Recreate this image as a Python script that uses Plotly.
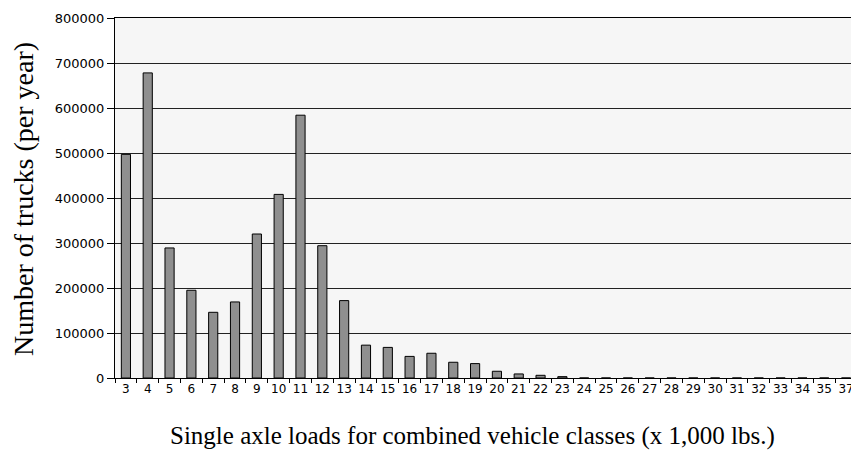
import plotly.graph_objects as go

categories = [str(i) for i in range(3, 36)] + ["37"]
trucks = [497000, 678000, 289000, 195000, 146000, 169000, 320000, 408000,
          584000, 294000, 172000, 73000, 68000, 48000, 55000, 35000, 32000,
          15000, 9000, 6000, 3000, 0, 0, 0, 0, 0, 0, 0, 0, 0, 0, 0, 0, 0]
y_ticks = [0, 100000, 200000, 300000, 400000, 500000, 600000, 700000, 800000]

# page body has an 8px default margin; size the figure so it fills 859x452
OFF = 8
W, H = 859 - OFF, 452 - OFF
L, R, T, B = 115 - OFF, 2, 18 - OFF, 74
pw = W - L - R
ph = H - T - B


def px_x(x_abs):
    return (x_abs - OFF - L) / pw


def px_y(y_abs):
    return 1 - (y_abs - OFF - T) / ph


fig = go.Figure()
fig.add_trace(go.Bar(
    x=categories, y=trucks,
    marker=dict(color="#8f8f8f", line=dict(color="#000000", width=1)),
))

fig.update_layout(
    width=W, height=H,
    margin=dict(l=L, r=R, t=T, b=B, autoexpand=False),
    paper_bgcolor="white",
    plot_bgcolor="#f6f6f6",
    bargap=0.58,
    showlegend=False,
    font=dict(family="DejaVu Sans", color="#000000"),
)
fig.update_xaxes(
    type="category",
    tickson="boundaries",
    ticks="outside", ticklen=4, tickcolor="#000000",
    showline=True, linecolor="#000000", linewidth=1, mirror=True,
    showgrid=False, automargin=False, tickangle=0,
    tickfont=dict(family="DejaVu Sans", size=12, color="#000000"),
)
fig.update_yaxes(
    range=[0, 800000],
    tickvals=y_ticks, ticktext=[str(v) for v in y_ticks],
    ticks="outside", ticklen=7, tickcolor="#000000",
    showline=True, linecolor="#000000", linewidth=1, mirror=True,
    showgrid=True, gridcolor="#222222", gridwidth=1,
    zeroline=False, automargin=False,
    tickfont=dict(family="DejaVu Sans", size=13, color="#000000"),
)

fig.add_annotation(
    text="Single axle loads for combined vehicle classes (x 1,000 lbs.)",
    xref="paper", yref="paper",
    x=px_x(472), y=px_y(436),
    xanchor="center", yanchor="middle", showarrow=False,
    font=dict(family="Liberation Serif", size=25, color="#000000"),
)
fig.add_annotation(
    text="Number of trucks (per year)",
    xref="paper", yref="paper",
    x=px_x(23), y=px_y(199),
    xanchor="center", yanchor="middle", showarrow=False, textangle=-90,
    font=dict(family="Liberation Serif", size=28, color="#000000"),
)

fig.write_html("out.html")
